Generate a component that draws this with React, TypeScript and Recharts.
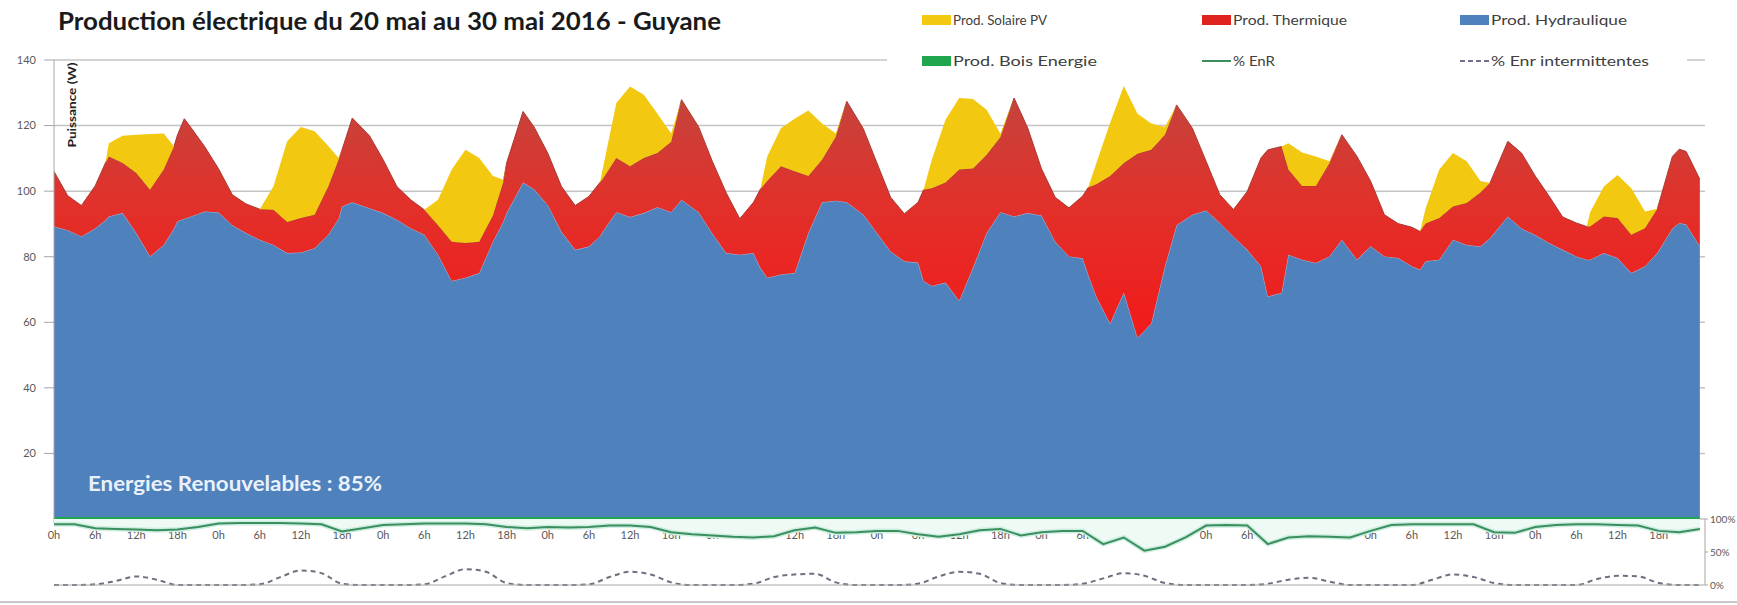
import React from 'react';
import { ComposedChart, Area, Line, XAxis, YAxis, CartesianGrid } from 'recharts';

// 10 jours, du 20 au 29 mai 2016
const jours = ['20 mai', '21 mai', '22 mai', '23 mai', '24 mai', '25 mai', '26 mai', '27 mai', '28 mai', '29 mai'];
const heuresJour = [0, 6, 12, 18];

// production (MW), heures comptées depuis le 20 mai 0h
const heures = [
  0, 2, 4, 6, 7.5, 8, 10, 12, 14, 16, 17.5, 18, 19, 20, 22,
  24, 26, 28, 30, 32, 34, 36, 38, 40, 41.5, 42, 43.5, 46,
  48, 50, 52, 54, 56, 58, 60, 62, 64, 65.5, 66, 68.4, 70,
  72, 74, 76, 78, 79.6, 80, 82, 84, 86, 88, 90, 91.5, 94,
  96, 98, 100, 102, 103, 104, 106, 108, 110, 112, 114, 115.6, 118,
  120, 122, 124, 126, 126.8, 128, 130, 132, 134, 136, 138, 140, 142,
  144, 146, 148, 150, 150.8, 152, 154, 156, 158, 160, 162, 163.7, 166,
  168, 170, 172, 174, 176, 177, 179, 180, 182, 184, 186, 187.8, 190,
  192, 194, 196, 198, 199.2, 200, 202, 204, 206, 208, 209.4, 212, 214,
  216, 218, 220, 222, 223.5, 224, 226, 228, 230, 232, 233.8, 236, 237, 238, 240,
];
const hydraulique = [
  88.6, 87.5, 85.6, 88, 90.5, 91.7, 92.7, 86.6, 79.5, 83, 88, 90.2, 91, 91.7, 93.2,
  92.9, 89, 86.6, 84.6, 83, 80.5, 80.7, 82, 86.1, 91, 94.7, 96, 94.2,
  92.7, 90.7, 88.1, 86.1, 80, 72, 73, 74.4, 84, 90, 92.7, 102, 100,
  95.2, 87, 81.5, 82.5, 85.6, 87, 93, 91.5, 92.7, 94.5, 93, 96.8, 93,
  86.5, 80.5, 80, 80.5, 76, 73, 74, 74.4, 86.6, 96, 96.5, 96, 92.3,
  86.6, 81, 78, 77.6, 72, 70.5, 71.5, 66, 76, 86.6, 93, 91.7, 92.7,
  92, 84, 79.5, 78.9, 74, 67.2, 59, 68.5, 54.6, 59, 76.5, 89, 92.2,
  93.5, 89.7, 85.5, 81.5, 76.5, 67.3, 68.3, 80, 78.5, 77.5, 79.5, 84.6, 78.5,
  82.6, 79.5, 79, 76.5, 75.4, 78, 78.5, 84.6, 83, 82.5, 85, 91.7, 88,
  86, 83.6, 81.5, 79.5, 78.5, 78.5, 80.5, 79, 74.4, 76.5, 80.5, 88, 89.7, 89.2, 82.6,
];
const thermique = [
  16.8, 10.5, 9.4, 13, 17.5, 18.3, 15.3, 18.3, 20.3, 23, 25, 26.3, 30.5, 27, 19.7,
  13.3, 9.3, 8.9, 9.3, 10.7, 9.5, 10.5, 10.2, 14.7, 18, 17.3, 25.7, 22.1,
  16.3, 10.1, 8.7, 7.6, 9, 12, 10.6, 9.6, 8, 12, 15.3, 21.7, 19,
  15.8, 13.8, 13.5, 15.3, 16.4, 16, 16.5, 15.5, 16.8, 16.5, 21.5, 30.5, 26,
  22, 18.5, 11, 15.5, 24, 29.5, 33, 31.1, 17.4, 13, 19.5, 30.8, 26.2,
  21.4, 16.5, 14.5, 18.4, 27.8, 29.8, 30.5, 40, 30.3, 23.9, 22.8, 36.1, 25.9,
  14.2, 13.5, 14.8, 19, 26.5, 34.3, 45, 39.5, 56.2, 53, 40.1, 36.7, 26.4,
  15, 8.6, 8.3, 17.8, 33, 44.7, 44.7, 26, 22.5, 23.5, 28.5, 32, 31.5,
  19.8, 12.7, 10.5, 11.9, 11.7, 11.5, 12.7, 10.1, 12.8, 16.5, 16.9, 22.9, 23,
  18, 14.3, 10, 10.2, 10.1, 10.1, 11.2, 12.2, 11.7, 11.6, 13.5, 22, 22.5, 22.3, 20.4,
];
const solaire = [
  0, 0, 0, 0, 0, 4, 8.3, 11.7, 17, 11, 0, 0, 0, 0, 0,
  0, 0, 0, 0, 7.1, 24.6, 27.8, 25.5, 12.4, 0.5, 0, 0, 0,
  0, 0, 0, 0, 7.8, 22, 28.4, 25.5, 12, 0.9, 0, 0, 0,
  0, 0, 0, 0, 0, 3, 16.8, 24.3, 19.3, 12, 2.5, 0, 0,
  0, 0, 0, 0, 0, 7.5, 11.6, 16, 20, 11, 1, 0, 0,
  0, 0, 0, 0, 0, 8.7, 19.2, 21.8, 21.2, 13.7, 1.2, 0, 0,
  0, 0, 0, 0, 0, 6.5, 16.2, 23.5, 12.2, 8, 2.4, 0, 0,
  0, 0, 0, 0, 0, 0, 0, 8, 10.2, 9, 0.5, 0, 0,
  0, 0, 0, 0, 0, 4.5, 14.8, 16.3, 12.7, 3.5, 0, 0, 0,
  0, 0, 0, 0, 0, 4.4, 9.1, 13.1, 14.2, 5.1, 0, 0, 0, 0, 0,
];
const boisEnergie = 0.6; // bande presque constante en bas de la pile

// pourcentages (bandeau du bas), pas de 3 h
const pctHeures = [
  0, 3, 6, 9, 12, 15, 18, 21, 24, 27, 30, 33, 36, 39, 42, 45,
  48, 51, 54, 57, 60, 63, 66, 69, 72, 75, 78, 81, 84, 87, 90, 93,
  96, 99, 102, 105, 108, 111, 114, 117, 120, 123, 126, 129, 132, 135, 138, 141,
  144, 147, 150, 153, 156, 159, 162, 165, 168, 171, 174, 177, 180, 183, 186, 189,
  192, 195, 198, 201, 204, 207, 210, 213, 216, 219, 222, 225, 228, 231, 234, 237, 240,
];
const pctEnR = [
  92, 92, 86, 85, 84, 83, 84, 88, 93, 94, 94, 94, 93, 92, 81, 86,
  91, 92, 93, 93, 93, 92, 88, 86, 88, 87, 88, 90, 90, 88, 80, 77,
  75, 73, 72, 74, 83, 87, 79, 80, 82, 82, 77, 73, 77, 83, 85, 75,
  80, 82, 82, 62, 72, 52, 58, 72, 90, 91, 90, 62, 72, 74, 73, 72,
  82, 91, 92, 92, 92, 92, 80, 79, 88, 91, 92, 92, 91, 90, 82, 80, 85,
];
const pctIntermittentes = [
  0, 0, 1, 6, 13, 8, 0, 0, 0, 0, 1, 12, 22, 18, 2, 0,
  0, 0, 1, 13, 24, 20, 3, 0, 0, 0, 1, 12, 20, 16, 4, 0,
  0, 0, 2, 12, 16, 17, 4, 0, 0, 0, 2, 13, 20, 17, 3, 0,
  0, 0, 2, 10, 18, 14, 3, 0, 0, 0, 0, 2, 8, 11, 5, 0,
  0, 0, 0, 8, 16, 12, 3, 0, 0, 0, 0, 9, 14, 13, 3, 0, 0,
];

const W = 1737;
const H = 600;
const X_MAX = 240.75;
const FONT = 'Lato, "Open Sans", sans-serif';

const prodData = heures.map((h, i) => ({
  h,
  bois: boisEnergie,
  hydro: hydraulique[i],
  thermique: thermique[i],
  solaire: solaire[i],
}));
const pctData = pctHeures.map((h, i) => ({ h, enr: pctEnR[i], inter: pctIntermittentes[i] }));

// graduations : une petite toutes les 2 h, un libellé toutes les 6 h
const xTicks: number[] = [];
for (let t = 0; t < jours.length * 24; t += 2) xTicks.push(t);
const xLabel = (t: number) => (heuresJour.includes(t % 24) ? `${t % 24}h` : '');

const legendItems = [
  { label: 'Prod. Solaire PV', kind: 'box', color: '#f2c811', x: 922, y: 20, w: 94 },
  { label: 'Prod. Thermique', kind: 'box', color: '#e0231f', x: 1202, y: 20, w: 114 },
  { label: 'Prod. Hydraulique', kind: 'box', color: '#4f81bd', x: 1460, y: 20, w: 136 },
  { label: 'Prod. Bois Energie', kind: 'box', color: '#1fa64f', x: 922, y: 61, w: 144 },
  { label: '% EnR', kind: 'line', color: '#3b8f5e', x: 1202, y: 61, w: 42 },
  { label: '% Enr intermittentes', kind: 'dash', color: '#6f6f8f', x: 1460, y: 61, w: 158 },
];

const tickStyle = { fontSize: 11, fill: '#595959', fontFamily: FONT };
const pctTickStyle = { fontSize: 10, fill: '#595959', fontFamily: FONT };

export default function App() {
  return (
    <div style={{ position: 'absolute', left: 0, top: 0, width: W, height: 605, background: '#fff' }}>
      {/* production empilée */}
      <div style={{ position: 'absolute', left: 0, top: 0 }}>
        <ComposedChart width={W} height={H} data={prodData} margin={{ top: 60, right: 32, bottom: 51, left: 10 }}>
          <defs>
            <linearGradient id="rouge" x1="0" y1="0" x2="0" y2="1">
              <stop offset="0%" stopColor="#c5443c" />
              <stop offset="45%" stopColor="#e2302a" />
              <stop offset="100%" stopColor="#f21a1a" />
            </linearGradient>
          </defs>
          <CartesianGrid yAxisId="left" vertical={false} stroke="#c4c4c4" strokeWidth={1.5} />
          <XAxis
            dataKey="h"
            type="number"
            domain={[0, X_MAX]}
            ticks={xTicks}
            interval={0}
            tickFormatter={xLabel}
            axisLine={false}
            tickLine={{ stroke: '#b0b0b0' }}
            tickSize={4}
            tickMargin={8}
            height={30}
            tick={tickStyle}
          />
          <YAxis
            yAxisId="left"
            domain={[0, 140]}
            ticks={[20, 40, 60, 80, 100, 120, 140]}
            width={44}
            tickSize={10}
            tickMargin={8}
            axisLine={{ stroke: '#a6a6a6' }}
            tickLine={{ stroke: '#a6a6a6' }}
            tick={tickStyle}
          />
          <YAxis yAxisId="right" orientation="right" width={0} tick={false} tickLine={false} axisLine={{ stroke: '#a6a6a6' }} />
          <Area yAxisId="left" type="linear" dataKey="bois" stackId="p" fill="#1fa64f" fillOpacity={1} stroke="none" dot={false} activeDot={false} isAnimationActive={false} />
          <Area yAxisId="left" type="linear" dataKey="hydro" stackId="p" fill="#4f81bd" fillOpacity={1} stroke="#9db8dc" strokeWidth={1} dot={false} activeDot={false} isAnimationActive={false} />
          <Area yAxisId="left" type="linear" dataKey="thermique" stackId="p" fill="url(#rouge)" fillOpacity={1} stroke="#a83a33" strokeWidth={1} dot={false} activeDot={false} isAnimationActive={false} />
          <Area yAxisId="left" type="linear" dataKey="solaire" stackId="p" fill="#f2c811" fillOpacity={1} stroke="none" dot={false} activeDot={false} isAnimationActive={false} />
        </ComposedChart>
      </div>

      {/* bandeau des pourcentages */}
      <div style={{ position: 'absolute', left: 0, top: 0 }}>
        <ComposedChart width={W} height={H} data={pctData} margin={{ top: 519, right: 0, bottom: 13, left: 54 }}>
          <XAxis dataKey="h" type="number" domain={[0, X_MAX]} tick={false} tickLine={false} height={2} axisLine={{ stroke: '#a6a6a6' }} />
          <YAxis yAxisId="l" width={0} domain={[0, 100]} tick={false} tickLine={false} axisLine={{ stroke: '#a6a6a6' }} />
          <YAxis
            yAxisId="right"
            orientation="right"
            width={32}
            domain={[0, 100]}
            ticks={[0, 50, 100]}
            tickFormatter={(v: number) => `${v}%`}
            tickSize={3}
            tickMargin={2}
            axisLine={{ stroke: '#a6a6a6' }}
            tickLine={{ stroke: '#a6a6a6' }}
            tick={pctTickStyle}
          />
          <Area yAxisId="right" type="linear" dataKey="enr" baseValue={100} fill="#effaf5" fillOpacity={1} stroke="none" dot={false} activeDot={false} isAnimationActive={false} />
          <Line yAxisId="right" type="linear" dataKey="enr" stroke="#cdeee0" strokeWidth={5} dot={false} activeDot={false} isAnimationActive={false} />
          <Line yAxisId="right" type="linear" dataKey="enr" stroke="#3b8f5e" strokeWidth={2} dot={false} activeDot={false} isAnimationActive={false} />
          <Line yAxisId="right" type="monotone" dataKey="inter" stroke="#6f6f7f" strokeWidth={2} strokeDasharray="5 4" dot={false} activeDot={false} isAnimationActive={false} />
        </ComposedChart>
      </div>

      {/* titre, légende, annotations */}
      <svg width={W} height={605} style={{ position: 'absolute', left: 0, top: 0, pointerEvents: 'none' }}>
        <text x={58} y={30} fontFamily={FONT} fontWeight={700} fontSize={25} fill="#1a1a1a" textLength={663} lengthAdjust="spacingAndGlyphs">
          Production électrique du 20 mai au 30 mai 2016 - Guyane
        </text>
        <rect x={887} y={40} width={800} height={34} fill="#fff" />
        {legendItems.map((it) => (
          <g key={it.label}>
            {it.kind === 'box' && <rect x={it.x} y={it.y - 5} width={29} height={10} fill={it.color} />}
            {it.kind === 'line' && <line x1={it.x} x2={it.x + 29} y1={it.y} y2={it.y} stroke={it.color} strokeWidth={2} />}
            {it.kind === 'dash' && (
              <line x1={it.x} x2={it.x + 29} y1={it.y} y2={it.y} stroke={it.color} strokeWidth={2} strokeDasharray="5 3" />
            )}
            <text x={it.x + 31} y={it.y + 5} fontFamily={FONT} fontSize={13} fill="#404040" textLength={it.w} lengthAdjust="spacingAndGlyphs">
              {it.label}
            </text>
          </g>
        ))}
        <text transform="translate(76,105) rotate(-90)" textAnchor="middle" fontFamily={FONT} fontWeight={700} fontSize={11} fill="#222" textLength={85} lengthAdjust="spacingAndGlyphs">
          Puissance (W)
        </text>
        <text x={88} y={491} fontFamily={FONT} fontWeight={700} fontSize={20} fill="#eaf1fb" textLength={294} lengthAdjust="spacingAndGlyphs">
          Energies Renouvelables : 85%
        </text>
        <rect x={0} y={601} width={W} height={2} fill="#c8c8c8" />
      </svg>
    </div>
  );
}
